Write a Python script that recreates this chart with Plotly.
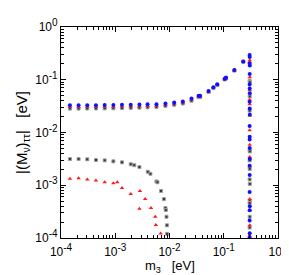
import plotly.graph_objects as go

# ---------------- data ----------------
# upper branch m3 positions
m3_upper = [1.46e-4, 2.11e-4, 3.05e-4, 4.41e-4, 6.38e-4, 9.23e-4, 1.33e-3, 1.93e-3,
            2.79e-3, 3.94e-3, 5.75e-3, 8.42e-3, 1.22e-2, 1.76e-2, 2.54e-2, 3.44e-2,
            3.67e-2, 5.25e-2, 6.44e-2, 7.59e-2, 0.104, 0.110, 0.157, 0.229]
blue_upper = [0.0328, 0.0328, 0.0329, 0.0330, 0.0331, 0.0333, 0.0335, 0.0337,
              0.0340, 0.0342, 0.0344, 0.0356, 0.0372, 0.0388, 0.0440, 0.0497,
              0.0497, 0.0613, 0.0724, 0.0820, 0.105, 0.110, 0.153, 0.223]
red_upper = [0.0305, 0.0305, 0.0306, 0.0307, 0.0308, 0.0309, 0.0311, 0.0313,
             0.0316, 0.0318, 0.0320, 0.0334, 0.0350, 0.0368, 0.0415, 0.0480,
             0.0480, 0.0595, 0.0705, 0.0800, 0.102, 0.107, 0.150, 0.220]
black_upper = [0.0284, 0.0284, 0.0285, 0.0286, 0.0287, 0.0288, 0.0290, 0.0293,
               0.0296, 0.0300, 0.0303, 0.0318, 0.0336, 0.0355, 0.0400, 0.0468,
               0.0468, 0.0585, 0.0695, 0.0790, 0.101, 0.106, 0.149, 0.219]

# lower branches
m3_red_lower = [1.46e-4, 2.11e-4, 3.05e-4, 4.41e-4, 6.38e-4, 9.23e-4, 1.09e-3, 1.33e-3,
                1.93e-3, 2.85e-3, 2.79e-3, 3.56e-3, 4.56e-3, 5.46e-3, 5.60e-3, 6.86e-3]
red_lower = [1.33e-3, 1.36e-3, 1.29e-3, 1.23e-3, 1.14e-3, 1.09e-3, 1.14e-3, 8.85e-4,
             6.81e-4, 7.80e-4, 3.60e-4, 5.46e-4, 3.69e-4, 2.53e-4, 1.77e-4, 1.22e-4]

m3_black_lower = [1.46e-4, 2.11e-4, 3.05e-4, 4.41e-4, 6.38e-4, 9.23e-4, 1.33e-3, 1.93e-3,
                  2.24e-3, 2.79e-3, 3.98e-3, 4.45e-3, 5.75e-3, 6.00e-3, 6.98e-3, 7.89e-3,
                  8.42e-3, 8.55e-3, 8.80e-3, 8.95e-3, 9.03e-3]
black_lower = [3.14e-3, 3.14e-3, 3.10e-3, 3.01e-3, 2.96e-3, 2.84e-3, 2.72e-3, 2.50e-3,
               2.40e-3, 2.21e-3, 1.80e-3, 1.65e-3, 1.18e-3, 1.14e-3, 7.80e-4, 5.46e-4,
               3.69e-4, 3.39e-4, 2.53e-4, 1.74e-4, 1.20e-4]

# vertical column near m3 ~ 0.3 eV
m3_blue_col = [0.300, 0.301, 0.300, 0.302, 0.301, 0.300, 0.301, 0.302, 0.300, 0.301,
               0.302, 0.300, 0.301, 0.300, 0.301, 0.302, 0.300, 0.301, 0.300, 0.302,
               0.301, 0.300, 0.301, 0.300]
blue_col = [0.295, 0.271, 0.203, 0.187, 0.128, 0.081, 0.0686, 0.0557, 0.0383, 0.0286,
            0.0216, 0.0133, 0.0083, 0.0074, 0.00509, 0.00314, 0.00234, 0.00157, 7.48e-4,
            4.0e-4, 3.35e-4, 2.14e-4, 1.23e-4, 1.02e-4]
m3_red_col = [0.301, 0.300, 0.302, 0.301, 0.300, 0.301, 0.302, 0.300, 0.301, 0.300,
              0.302, 0.301, 0.300, 0.301, 0.300]
red_col = [0.233, 0.217, 0.111, 0.063, 0.0416, 0.0342, 0.021, 0.011, 0.00586, 0.00345,
           0.00228, 5.46e-4, 3.35e-4, 1.74e-4, 1.12e-4]
m3_black_col = [0.300, 0.302, 0.301, 0.300, 0.301, 0.302, 0.300, 0.301, 0.300, 0.302,
                0.301, 0.300, 0.301, 0.300]
black_col = [0.0957, 0.0903, 0.0483, 0.0259, 0.00469, 0.00438, 0.00296, 0.00204,
             0.00129, 0.00106, 5.01e-4, 4.61e-4, 2.53e-4, 1.58e-4]

decades = [1e-4, 1e-3, 1e-2, 1e-1, 1]
exponents = ["-4", "-3", "-2", "-1", "0"]
decade_labels = ["10<sup><span style='font-size:10px'>%s</span></sup>" % e for e in exponents]
minor_vals = [k * d for d in [1e-4, 1e-3, 1e-2, 1e-1] for k in range(2, 10)]

FONT = "Liberation Sans, Arial, sans-serif"

fig = go.Figure()
fig.add_trace(go.Scatter(
    x=m3_upper + m3_black_lower + m3_black_col,
    y=black_upper + black_lower + black_col,
    mode="markers",
    marker=dict(symbol="square", size=3, color="#333333",
                line=dict(width=1, color="#a0a0a0")),
))
fig.add_trace(go.Scatter(
    x=m3_upper + m3_red_lower + m3_red_col,
    y=red_upper + red_lower + red_col,
    mode="markers",
    marker=dict(symbol="triangle-up", size=4, color="#ff1a1a", line=dict(width=0)),
))
fig.add_trace(go.Scatter(
    x=m3_upper + m3_blue_col,
    y=blue_upper + blue_col,
    mode="markers",
    marker=dict(symbol="circle", size=4, color="#1010ff", line=dict(width=0)),
))

axis_common = dict(
    type="log", range=[-4, 0],
    tickvals=decades, ticktext=decade_labels,
    ticks="inside", ticklen=5, tickwidth=1, tickcolor="black",
    minor=dict(tickvals=minor_vals, ticks="inside", ticklen=3, tickwidth=1,
               tickcolor="black", showgrid=False),
    showline=True, linecolor="black", linewidth=1, mirror="ticks",
    showgrid=False, zeroline=False,
    tickfont=dict(family=FONT, size=12, color="black"),
)

fig.update_xaxes(**axis_common, ticklabelstandoff=3)
fig.update_yaxes(**axis_common,
                 title=dict(text="|(M<sub>ν</sub>)<sub>ττ</sub>|   [eV]", standoff=4,
                            font=dict(family=FONT, size=15, color="black")))

fig.add_annotation(
    text="m<sub>3</sub>   [eV]", xref="paper", yref="paper",
    x=0.5, y=-0.135, xanchor="center", yanchor="middle", showarrow=False,
    font=dict(family=FONT, size=13, color="black"),
)

fig.update_layout(
    width=289, height=275,
    margin=dict(l=53, r=11, t=9, b=45),
    paper_bgcolor="white", plot_bgcolor="white",
    showlegend=False,
)

fig.write_html("out.html")
